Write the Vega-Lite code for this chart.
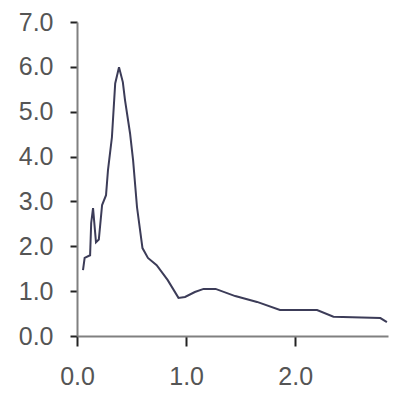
{
  "$schema": "https://vega.github.io/schema/vega-lite/v6.json",
  "autosize": {"type": "none"},
  "padding": {"left": 77, "top": 22, "right": 7, "bottom": 68},
  "width": 311,
  "height": 314,
  "background": "white",
  "config": {"view": {"stroke": null}},
  "data": {"values": [
    {"x": 0.055, "y": 1.47},
    {"x": 0.07, "y": 1.74},
    {"x": 0.12, "y": 1.8},
    {"x": 0.13, "y": 2.52},
    {"x": 0.147, "y": 2.85},
    {"x": 0.174, "y": 2.09},
    {"x": 0.2, "y": 2.15},
    {"x": 0.23, "y": 2.92},
    {"x": 0.266, "y": 3.14},
    {"x": 0.284, "y": 3.7},
    {"x": 0.32, "y": 4.43},
    {"x": 0.35, "y": 5.63},
    {"x": 0.385, "y": 5.99},
    {"x": 0.42, "y": 5.66},
    {"x": 0.44, "y": 5.26},
    {"x": 0.486, "y": 4.52},
    {"x": 0.514, "y": 3.92},
    {"x": 0.55, "y": 2.87},
    {"x": 0.6, "y": 1.96},
    {"x": 0.65, "y": 1.74},
    {"x": 0.73, "y": 1.58},
    {"x": 0.83, "y": 1.25},
    {"x": 0.93, "y": 0.85},
    {"x": 0.99, "y": 0.87},
    {"x": 1.08, "y": 0.98},
    {"x": 1.16, "y": 1.05},
    {"x": 1.27, "y": 1.05},
    {"x": 1.45, "y": 0.89},
    {"x": 1.65, "y": 0.76},
    {"x": 1.86, "y": 0.58},
    {"x": 2.2, "y": 0.58},
    {"x": 2.35, "y": 0.43},
    {"x": 2.78, "y": 0.4},
    {"x": 2.84, "y": 0.31}
  ]},
  "mark": {"type": "line", "color": "#3c3c58", "strokeWidth": 2, "interpolate": "linear"},
  "encoding": {
    "x": {
      "field": "x", "type": "quantitative",
      "scale": {"domain": [0, 2.85], "nice": false},
      "axis": {
        "title": null, "grid": false, "values": [0, 1, 2], "format": ".1f",
        "domainColor": "#808080", "domainWidth": 2,
        "tickColor": "#222222", "tickWidth": 2, "tickSize": 10,
        "labelFont": "Liberation Sans", "labelFontSize": 25, "labelColor": "#555555",
        "labelPadding": 18, "labelFlush": false
      }
    },
    "y": {
      "field": "y", "type": "quantitative",
      "scale": {"domain": [0, 7], "nice": false},
      "axis": {
        "title": null, "grid": false, "values": [0, 1, 2, 3, 4, 5, 6, 7], "format": ".1f",
        "domainColor": "#808080", "domainWidth": 2,
        "tickColor": "#222222", "tickWidth": 2, "tickSize": 7,
        "labelFont": "Liberation Sans", "labelFontSize": 25, "labelColor": "#555555",
        "labelPadding": 17, "labelFlush": false
      }
    }
  }
}
